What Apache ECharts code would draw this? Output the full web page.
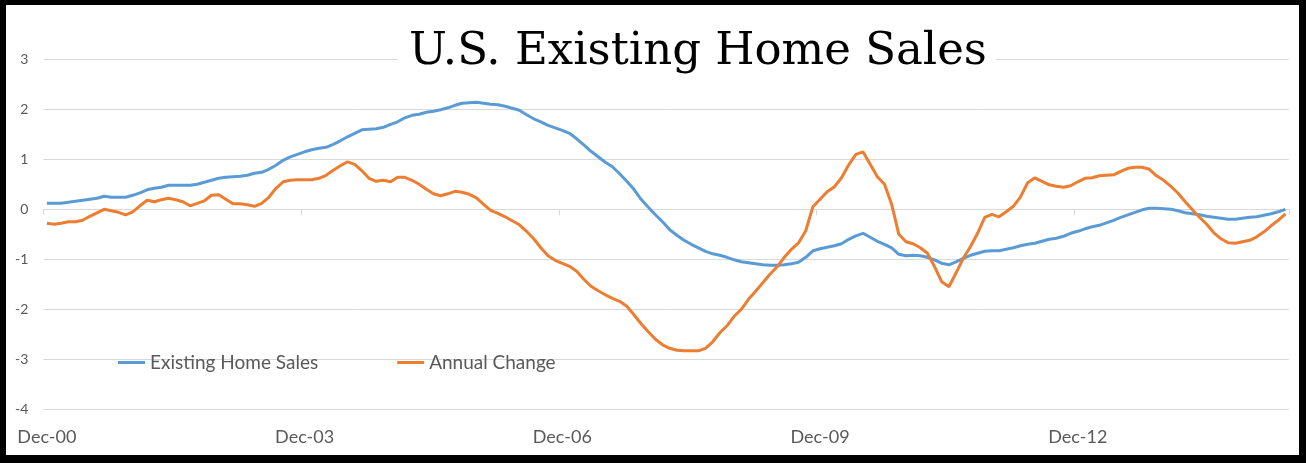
<!DOCTYPE html>
<html>
<head>
<meta charset="utf-8">
<title>U.S. Existing Home Sales</title>
<script src="https://cdn.jsdelivr.net/npm/echarts@6/dist/echarts.min.js"></script>
<style>
    html, body { margin: 0; padding: 0; background: #fff; }
    #chart { position: absolute; left: 0; top: 0; width: 1306px; height: 463px; }
    #frame {
        position: absolute; left: 0; top: 0; width: 1306px; height: 463px;
        box-sizing: border-box; border-style: solid; border-color: #000;
        border-width: 5px 7px 8px 6px; pointer-events: none;
    }
</style>
</head>
<body>
<div id="chart"></div>
<div id="frame"></div>
<script>
// months Dec-00 .. May-15
var startYear = 2000, startMonth = 11, monthCount = 174;
var monthNames = ['Jan', 'Feb', 'Mar', 'Apr', 'May', 'Jun', 'Jul', 'Aug', 'Sep', 'Oct', 'Nov', 'Dec'];

var homeSales = [
    0.12, 0.12, 0.12, 0.14, 0.16, 0.18, 0.20, 0.22, 0.26, 0.24,
    0.24, 0.24, 0.28, 0.33, 0.39, 0.42, 0.44, 0.48, 0.48, 0.48,
    0.48, 0.50, 0.54, 0.58, 0.62, 0.64, 0.65, 0.66, 0.68, 0.72,
    0.74, 0.80, 0.88, 0.98, 1.05, 1.10, 1.15, 1.19, 1.22, 1.24,
    1.30, 1.37, 1.45, 1.52, 1.59, 1.60, 1.61, 1.64, 1.70, 1.75,
    1.83, 1.88, 1.90, 1.94, 1.96, 1.99, 2.03, 2.08, 2.12, 2.13,
    2.14, 2.12, 2.10, 2.09, 2.06, 2.02, 1.98, 1.89, 1.81, 1.75,
    1.68, 1.63, 1.58, 1.52, 1.41, 1.29, 1.16, 1.05, 0.94, 0.85,
    0.71, 0.56, 0.40, 0.20, 0.04, -0.11, -0.25, -0.41, -0.52, -0.62,
    -0.70, -0.77, -0.84, -0.89, -0.92, -0.96, -1.01, -1.05, -1.07, -1.09,
    -1.11, -1.12, -1.12, -1.11, -1.09, -1.06, -0.96, -0.83, -0.79, -0.76,
    -0.73, -0.69, -0.60, -0.53, -0.48, -0.56, -0.64, -0.70, -0.77, -0.90,
    -0.93, -0.92, -0.93, -0.96, -1.01, -1.08, -1.11, -1.05, -0.98, -0.92,
    -0.88, -0.84, -0.83, -0.83, -0.80, -0.77, -0.73, -0.70, -0.68, -0.64,
    -0.60, -0.58, -0.54, -0.48, -0.44, -0.39, -0.35, -0.32, -0.27, -0.22,
    -0.16, -0.11, -0.06, -0.01, 0.02, 0.02, 0.01, 0.00, -0.03, -0.07,
    -0.09, -0.11, -0.14, -0.16, -0.18, -0.20, -0.20, -0.18, -0.16, -0.15,
    -0.12, -0.09, -0.05, 0.00
];

var annualChange = [
    -0.28, -0.30, -0.28, -0.25, -0.25, -0.22, -0.14, -0.07, 0.00, -0.03,
    -0.06, -0.11, -0.05, 0.07, 0.18, 0.15, 0.19, 0.22, 0.19, 0.15,
    0.07, 0.12, 0.17, 0.28, 0.29, 0.20, 0.11, 0.11, 0.09, 0.06,
    0.12, 0.24, 0.42, 0.55, 0.58, 0.59, 0.59, 0.59, 0.62, 0.68,
    0.78, 0.87, 0.95, 0.90, 0.77, 0.62, 0.56, 0.58, 0.55, 0.64,
    0.64, 0.58, 0.50, 0.40, 0.31, 0.27, 0.31, 0.36, 0.34, 0.30,
    0.23, 0.10, -0.02, -0.08, -0.15, -0.23, -0.31, -0.44, -0.59, -0.77,
    -0.93, -1.02, -1.08, -1.14, -1.24, -1.40, -1.54, -1.63, -1.71, -1.78,
    -1.84, -1.94, -2.11, -2.29, -2.45, -2.60, -2.71, -2.78, -2.82, -2.83,
    -2.83, -2.83, -2.78, -2.65, -2.47, -2.33, -2.14, -2.00, -1.80, -1.64,
    -1.47, -1.30, -1.15, -0.96, -0.80, -0.67, -0.43, 0.05, 0.20, 0.35,
    0.45, 0.63, 0.89, 1.10, 1.15, 0.90, 0.65, 0.50, 0.10, -0.50,
    -0.65, -0.69, -0.77, -0.88, -1.15, -1.45, -1.55, -1.27, -0.98, -0.75,
    -0.48, -0.16, -0.10, -0.15, -0.05, 0.06, 0.25, 0.53, 0.63, 0.56,
    0.49, 0.46, 0.44, 0.47, 0.55, 0.62, 0.63, 0.67, 0.68, 0.69,
    0.76, 0.82, 0.84, 0.84, 0.80, 0.67, 0.58, 0.46, 0.32, 0.15,
    -0.01, -0.16, -0.30, -0.47, -0.59, -0.67, -0.68, -0.65, -0.62, -0.55,
    -0.45, -0.33, -0.22, -0.09
];

var yTicks = { min: -4, max: 3, step: 1 };

var months = [];
for (var i = 0; i < monthCount; i++) {
    var m = (startMonth + i) % 12;
    var y = startYear + Math.floor((startMonth + i) / 12);
    months.push(monthNames[m] + '-' + String(y % 100).padStart(2, '0'));
}

var myChart = echarts.init(document.getElementById('chart'));
var labelFont = 'Lato, "Liberation Sans", sans-serif';

var option = {
    animation: false,
    color: ['#5B9BD5', '#ED7D31'],
    grid: { left: 43.3, right: 17, top: 59.3, bottom: 53.7, outerBoundsMode: 'none' },
    graphic: [{
        type: 'rect',
        z: 100,
        shape: { x: 398, y: 26, width: 598, height: 48 },
        style: { fill: '#fff' }
    }, {
        type: 'text',
        z: 101,
        x: 698,
        y: 52,
        style: {
            text: 'U.S. Existing Home Sales',
            font: '45px "DejaVu Serif", serif',
            fill: '#000',
            textAlign: 'center',
            textVerticalAlign: 'middle'
        }
    }],
    legend: {
        left: 118,
        top: 353,
        padding: 0,
        icon: 'rect',
        itemWidth: 27,
        itemHeight: 3,
        itemGap: 79,
        textStyle: { color: '#595959', fontSize: 19, fontFamily: labelFont },
        data: ['Existing Home Sales', 'Annual Change']
    },
    xAxis: [{
        type: 'category',
        data: months,
        boundaryGap: true,
        position: 'bottom',
        axisLine: { show: false, onZero: false },
        axisTick: { show: false },
        axisLabel: {
            interval: 35,
            color: '#595959',
            fontSize: 18,
            fontFamily: labelFont,
            margin: 19
        },
        splitLine: { show: false }
    }, {
        type: 'category',
        data: months,
        boundaryGap: true,
        position: 'top',
        axisLine: { show: true, onZero: true, lineStyle: { color: '#d9d9d9', width: 1 } },
        axisTick: { show: true, inside: true, interval: 35, length: 6, lineStyle: { color: '#d9d9d9' } },
        axisLabel: { show: false },
        splitLine: { show: false }
    }],
    yAxis: {
        type: 'value',
        min: yTicks.min,
        max: yTicks.max,
        interval: yTicks.step,
        axisLine: { show: false },
        axisTick: { show: false },
        axisLabel: { color: '#595959', fontSize: 14, fontFamily: labelFont, margin: 15 },
        splitLine: { lineStyle: { color: '#d9d9d9', width: 1 } }
    },
    series: [{
        name: 'Existing Home Sales',
        type: 'line',
        xAxisIndex: 0,
        data: homeSales,
        symbol: 'none',
        smooth: false,
        lineStyle: { width: 3 }
    }, {
        name: 'Annual Change',
        type: 'line',
        xAxisIndex: 0,
        data: annualChange,
        symbol: 'none',
        smooth: false,
        lineStyle: { width: 3 }
    }]
};

myChart.setOption(option);
window.addEventListener('resize', function () {
    myChart.resize();
});
</script>
</body>
</html>
